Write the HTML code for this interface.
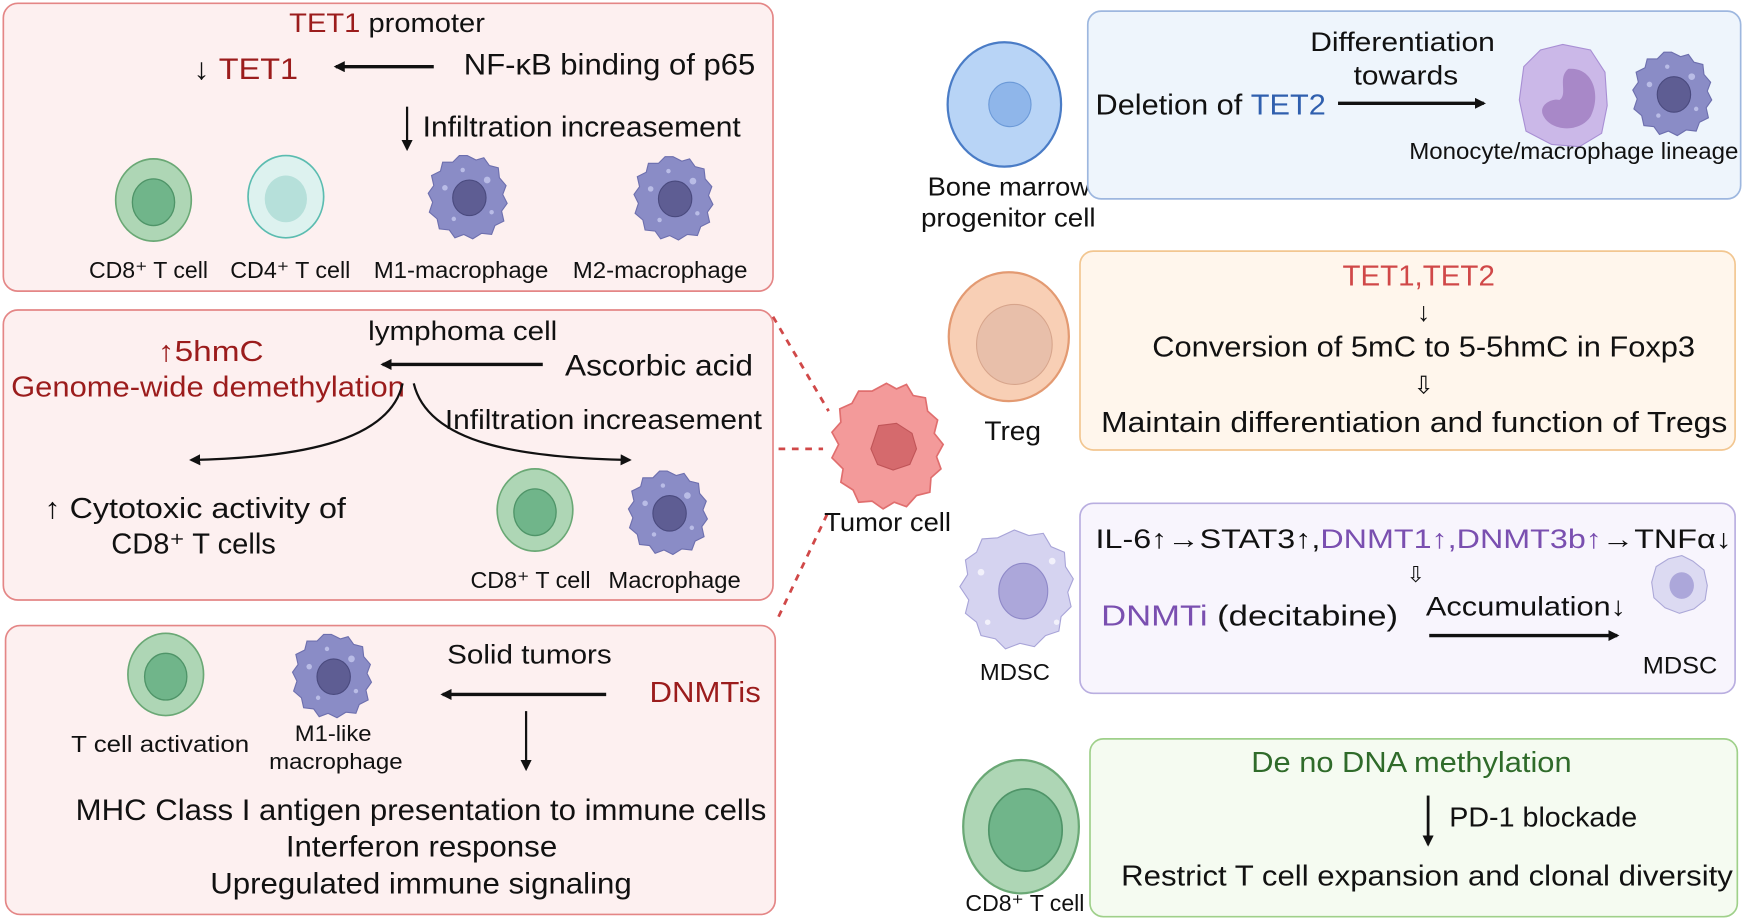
<!DOCTYPE html>
<html><head><meta charset="utf-8"><style>
html,body{margin:0;padding:0;background:#fff;}
svg{display:block;}
text{font-family:"Liberation Sans",sans-serif;fill:#111;}
.r{fill:#9b1c1c;}
.b{fill:#2f5fae;}
.p{fill:#7a4fb0;}
.g{fill:#2f6b2a;}
.rr{fill:#d04848;}
</style></head><body>
<svg width="1744" height="920" viewBox="0 0 1568 828" preserveAspectRatio="none" xmlns="http://www.w3.org/2000/svg">
<defs>
<marker id="ah" markerWidth="10" markerHeight="10" refX="8" refY="5" orient="auto" markerUnits="userSpaceOnUse"><path d="M0,0 L10,5 L0,10 Z" fill="#111"/></marker>
<g id="tc"><ellipse cx="0" cy="0" rx="34" ry="37" fill="#aed6b5" stroke="#6aa875" stroke-width="1.5"/><ellipse cx="0" cy="2" rx="19" ry="21" fill="#70b58a" stroke="#4f9468" stroke-width="1.2"/></g>
<g id="mac"><path d="M0,-37 L8,-33 L15,-35 L20,-28 L28,-26 L29,-17 L35,-10 L32,-2 L36,6 L31,13 L33,22 L25,26 L22,34 L13,33 L5,38 L-3,34 L-11,37 L-16,30 L-25,29 L-27,20 L-34,14 L-31,5 L-35,-3 L-30,-10 L-32,-19 L-24,-23 L-22,-31 L-13,-31 L-7,-37 Z" fill="#8a8cc6" stroke="#6d6fae" stroke-width="1"/><ellipse cx="2" cy="1" rx="15" ry="16" fill="#5e5d93" stroke="#4a4a7e"/><circle cx="-20" cy="-8" r="2.5" fill="#b9bce6"/><circle cx="18" cy="-15" r="3" fill="#b9bce6"/><circle cx="-12" cy="20" r="2" fill="#b9bce6"/><circle cx="22" cy="14" r="2" fill="#b9bce6"/><circle cx="-4" cy="-24" r="2" fill="#b9bce6"/></g>
</defs>

<rect x="3" y="3" width="692" height="259" rx="13" fill="#fdf0f0" stroke="#e48686" stroke-width="1.5"/>
<rect x="3" y="279" width="692" height="261" rx="13" fill="#fdf0f0" stroke="#e48686" stroke-width="1.5"/>
<rect x="5" y="563" width="692" height="260" rx="13" fill="#fdf0f0" stroke="#e48686" stroke-width="1.5"/>

<!-- box1 -->
<text x="260" y="29" font-size="24" textLength="176" lengthAdjust="spacingAndGlyphs"><tspan class="r">TET1</tspan> promoter</text>
<text x="174" y="71" font-size="27" textLength="94" lengthAdjust="spacingAndGlyphs">↓ <tspan class="r">TET1</tspan></text>
<line x1="390" y1="60" x2="302" y2="60" stroke="#111" stroke-width="3" marker-end="url(#ah)"/>
<text x="417" y="67" font-size="27" textLength="262" lengthAdjust="spacingAndGlyphs">NF-κB binding of p65</text>
<line x1="366" y1="96" x2="366" y2="134" stroke="#111" stroke-width="2" marker-end="url(#ah)"/>
<text x="380" y="123" font-size="26" textLength="286" lengthAdjust="spacingAndGlyphs">Infiltration increasement</text>
<use href="#tc" x="138" y="180"/>
<g transform="translate(257,177)"><ellipse rx="34" ry="37" fill="#ddf2ef" stroke="#5bbcb0" stroke-width="1.5"/><ellipse cx="0" cy="2" rx="19" ry="21" fill="#b6e0da"/></g>
<use href="#mac" x="420" y="177"/>
<use href="#mac" x="605" y="178"/>
<text x="80" y="250" font-size="21" textLength="107" lengthAdjust="spacingAndGlyphs">CD8⁺ T cell</text>
<text x="207" y="250" font-size="21" textLength="108" lengthAdjust="spacingAndGlyphs">CD4⁺ T cell</text>
<text x="336" y="250" font-size="21" textLength="157" lengthAdjust="spacingAndGlyphs">M1-macrophage</text>
<text x="515" y="250" font-size="21" textLength="157" lengthAdjust="spacingAndGlyphs">M2-macrophage</text>

<!-- box2 -->
<text x="331" y="306" font-size="24" textLength="170" lengthAdjust="spacingAndGlyphs">lymphoma cell</text>
<text x="142" y="325" font-size="26" class="r" textLength="95" lengthAdjust="spacingAndGlyphs">↑5hmC</text>
<text x="10" y="357" font-size="26" class="r" textLength="354" lengthAdjust="spacingAndGlyphs">Genome-wide demethylation</text>
<line x1="488" y1="328" x2="344" y2="328" stroke="#111" stroke-width="3" marker-end="url(#ah)"/>
<text x="508" y="338" font-size="27" textLength="169" lengthAdjust="spacingAndGlyphs">Ascorbic acid</text>
<text x="400" y="386" font-size="25" textLength="285" lengthAdjust="spacingAndGlyphs">Infiltration increasement</text>
<path d="M362,345 C350,400 260,412 172,414" fill="none" stroke="#111" stroke-width="2" marker-end="url(#ah)"/>
<path d="M372,345 C385,400 470,412 566,414" fill="none" stroke="#111" stroke-width="2" marker-end="url(#ah)"/>
<text x="40" y="466" font-size="26" textLength="271" lengthAdjust="spacingAndGlyphs">↑ Cytotoxic activity of</text>
<text x="100" y="498" font-size="26" textLength="148" lengthAdjust="spacingAndGlyphs">CD8⁺ T cells</text>
<use href="#tc" x="481" y="459"/>
<use href="#mac" x="600" y="461"/>
<text x="423" y="529" font-size="21" textLength="108" lengthAdjust="spacingAndGlyphs">CD8⁺ T cell</text>
<text x="547" y="529" font-size="21" textLength="119" lengthAdjust="spacingAndGlyphs">Macrophage</text>

<!-- box3 -->
<use href="#tc" x="149" y="607"/>
<use href="#mac" x="298" y="608"/>
<text x="402" y="597" font-size="24" textLength="148" lengthAdjust="spacingAndGlyphs">Solid tumors</text>
<line x1="545" y1="625" x2="398" y2="625" stroke="#111" stroke-width="3" marker-end="url(#ah)"/>
<text x="584" y="632" font-size="26" class="r" textLength="100" lengthAdjust="spacingAndGlyphs">DNMTis</text>
<line x1="473" y1="640" x2="473" y2="692" stroke="#111" stroke-width="2" marker-end="url(#ah)"/>
<text x="64" y="677" font-size="21" textLength="160" lengthAdjust="spacingAndGlyphs">T cell activation</text>
<text x="265" y="667" font-size="20" textLength="69" lengthAdjust="spacingAndGlyphs">M1-like</text>
<text x="242" y="692" font-size="20" textLength="120" lengthAdjust="spacingAndGlyphs">macrophage</text>
<text x="68" y="738" font-size="27" textLength="621" lengthAdjust="spacingAndGlyphs">MHC Class I antigen presentation to immune cells</text>
<text x="257" y="771" font-size="27" textLength="244" lengthAdjust="spacingAndGlyphs">Interferon response</text>
<text x="189" y="804" font-size="27" textLength="379" lengthAdjust="spacingAndGlyphs">Upregulated immune signaling</text>

<g stroke="#d04848" stroke-width="2.5" stroke-dasharray="6,6" fill="none">
<line x1="695" y1="285" x2="745" y2="370"/>
<line x1="700" y1="404" x2="740" y2="404"/>
<line x1="700" y1="555" x2="745" y2="460"/>
</g>
<path d="M797,345 L806,350 L815,346 L821,356 L832,358 L834,370 L843,378 L840,390 L848,400 L842,411 L846,422 L837,430 L836,443 L824,446 L815,456 L804,452 L794,458 L784,451 L772,452 L767,441 L756,434 L758,422 L748,412 L754,400 L748,389 L756,380 L755,368 L766,363 L772,352 L784,352 Z" fill="#f39a9a" stroke="#e06e6e" stroke-width="1.5"/>
<path d="M790,383 L806,381 L820,390 L824,404 L818,418 L803,423 L789,418 L783,404 Z" fill="#d56a6d" stroke="#c05558"/>
<text x="741" y="478" font-size="23" textLength="114" lengthAdjust="spacingAndGlyphs">Tumor cell</text>

<!-- bone marrow -->
<ellipse cx="903" cy="94" rx="51" ry="56" fill="#b8d4f6" stroke="#4a7cc6" stroke-width="2"/>
<ellipse cx="908" cy="94" rx="19" ry="20" fill="#8fb6ea" stroke="#6c9ad8"/>
<text x="834" y="176" font-size="23" textLength="146" lengthAdjust="spacingAndGlyphs">Bone marrow</text>
<text x="828" y="204" font-size="23" textLength="157" lengthAdjust="spacingAndGlyphs">progenitor cell</text>
<rect x="978" y="10" width="587" height="169" rx="12" fill="#eef5fc" stroke="#9db7df" stroke-width="1.5"/>
<text x="1178" y="46" font-size="24" textLength="166" lengthAdjust="spacingAndGlyphs">Differentiation</text>
<text x="1217" y="76" font-size="24" textLength="94" lengthAdjust="spacingAndGlyphs">towards</text>
<text x="985" y="103" font-size="26" textLength="207" lengthAdjust="spacingAndGlyphs">Deletion of <tspan class="b">TET2</tspan></text>
<line x1="1203" y1="93" x2="1334" y2="93" stroke="#111" stroke-width="3" marker-end="url(#ah)"/>
<path d="M1405,40 L1430,45 L1443,65 L1445,95 L1440,120 L1420,132 L1395,130 L1372,118 L1366,90 L1370,60 L1385,45 Z" fill="#cbb8e8" stroke="#a88fd4"/>
<path d="M1410,62 C1432,60 1440,85 1430,105 C1420,120 1395,118 1388,105 C1382,95 1395,88 1402,90 C1410,85 1400,70 1410,62 Z" fill="#a888c8"/>
<use href="#mac" x="1503" y="84"/>
<text x="1267" y="143" font-size="21" textLength="296" lengthAdjust="spacingAndGlyphs">Monocyte/macrophage lineage</text>

<!-- Treg -->
<ellipse cx="907" cy="303" rx="54" ry="58" fill="#f8cfb5" stroke="#e39a72" stroke-width="2"/>
<ellipse cx="912" cy="310" rx="34" ry="36" fill="#e8bfaa" stroke="#d7a58c"/>
<text x="885" y="396" font-size="24" textLength="51" lengthAdjust="spacingAndGlyphs">Treg</text>
<rect x="971" y="226" width="589" height="179" rx="12" fill="#fff6ec" stroke="#f2c690" stroke-width="1.5"/>
<text x="1207" y="257" font-size="26" class="rr" textLength="137" lengthAdjust="spacingAndGlyphs">TET1,TET2</text>
<text x="1280" y="289" font-size="24" text-anchor="middle">↓</text>
<text x="1036" y="321" font-size="26" textLength="488" lengthAdjust="spacingAndGlyphs">Conversion of 5mC to 5-5hmC in Foxp3</text>
<text x="1280" y="354" font-size="22" text-anchor="middle">⇩</text>
<text x="990" y="389" font-size="26" textLength="563" lengthAdjust="spacingAndGlyphs">Maintain differentiation and function of Tregs</text>

<!-- MDSC -->
<path d="M912,477 L925,482 L938,480 L945,492 L957,497 L958,510 L965,521 L960,533 L963,546 L954,555 L952,568 L940,572 L930,582 L917,579 L904,584 L895,575 L882,572 L878,560 L868,552 L871,540 L863,528 L870,517 L868,504 L878,497 L883,485 L897,484 Z" fill="#d5d3f0" stroke="#a8a4d8"/>
<ellipse cx="920" cy="532" rx="22" ry="25" fill="#aca7da" stroke="#8f89c8"/>
<circle cx="882" cy="515" r="3" fill="#f2f1fb"/><circle cx="946" cy="505" r="3" fill="#f2f1fb"/><circle cx="950" cy="560" r="2.5" fill="#f2f1fb"/><circle cx="888" cy="560" r="2.5" fill="#f2f1fb"/>
<text x="881" y="612" font-size="21" textLength="63" lengthAdjust="spacingAndGlyphs">MDSC</text>
<rect x="971" y="453" width="589" height="171" rx="12" fill="#f8f5fd" stroke="#b9aee0" stroke-width="1.5"/>
<text x="985" y="493" font-size="24" textLength="572" lengthAdjust="spacingAndGlyphs">IL-6↑→STAT3↑,<tspan class="p">DNMT1↑,DNMT3b↑</tspan>→TNFα↓</text>
<text x="1273" y="524" font-size="20" text-anchor="middle">⇩</text>
<text x="990" y="563" font-size="26" textLength="267" lengthAdjust="spacingAndGlyphs"><tspan class="p">DNMTi</tspan> (decitabine)</text>
<text x="1282" y="554" font-size="24" textLength="180" lengthAdjust="spacingAndGlyphs">Accumulation↓</text>
<line x1="1285" y1="572" x2="1454" y2="572" stroke="#111" stroke-width="3" marker-end="url(#ah)"/>
<path d="M1512,500 L1522,505 L1532,513 L1535,527 L1533,540 L1523,548 L1510,552 L1497,547 L1487,538 L1485,524 L1489,510 L1500,503 Z" fill="#dcdaf2" stroke="#aca8d8"/>
<ellipse cx="1512" cy="527" rx="11" ry="12" fill="#aca7da"/>
<text x="1477" y="606" font-size="22" textLength="67" lengthAdjust="spacingAndGlyphs">MDSC</text>

<!-- CD8 -->
<ellipse cx="918" cy="744" rx="52" ry="60" fill="#aed6b5" stroke="#6aa875" stroke-width="2"/>
<ellipse cx="922" cy="747" rx="33" ry="37" fill="#70b58a" stroke="#4f9468" stroke-width="1.5"/>
<text x="868" y="820" font-size="21" textLength="107" lengthAdjust="spacingAndGlyphs">CD8⁺ T cell</text>
<rect x="980" y="665" width="582" height="160" rx="12" fill="#f5fbf1" stroke="#9fd08a" stroke-width="1.5"/>
<text x="1125" y="695" font-size="26" class="g" textLength="288" lengthAdjust="spacingAndGlyphs">De no DNA methylation</text>
<line x1="1284" y1="716" x2="1284" y2="760" stroke="#111" stroke-width="2.5" marker-end="url(#ah)"/>
<text x="1303" y="744" font-size="25" textLength="169" lengthAdjust="spacingAndGlyphs">PD-1 blockade</text>
<text x="1008" y="797" font-size="26" textLength="550" lengthAdjust="spacingAndGlyphs">Restrict T cell expansion and clonal diversity</text>
</svg>
</body></html>
